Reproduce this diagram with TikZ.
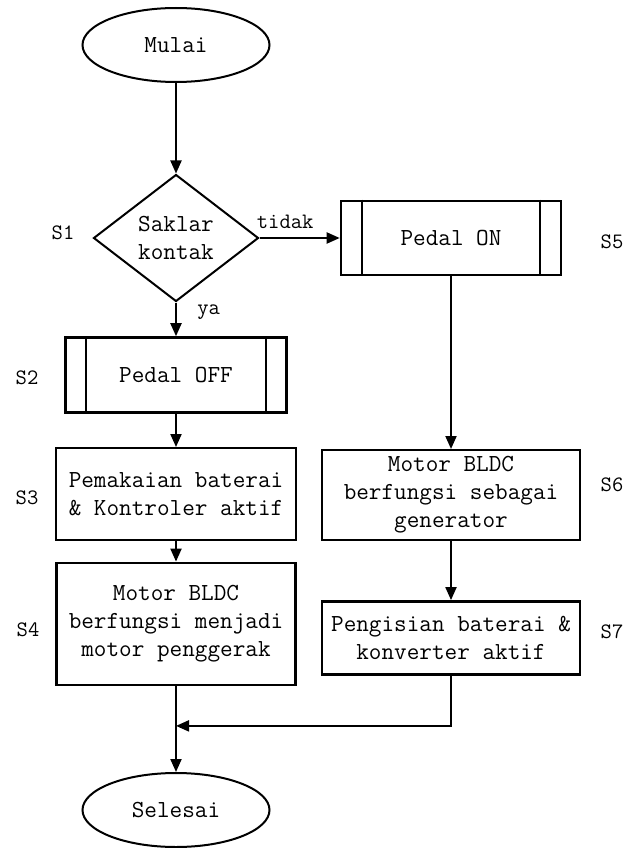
\documentclass[tikz,border=0pt]{standalone}
\usepackage{tikz}
\usetikzlibrary{arrows.meta, positioning, shapes.geometric}

\begin{document}
\begin{tikzpicture}[>={Triangle[length=13pt,width=11pt]},line width=2pt,node distance=2cm,on grid,font=\ttfamily\fontsize{24.5}{28}\selectfont]
	\useasboundingbox (0,0) rectangle (629pt,-848pt);
	\tikzset{terminal/.style={draw,ellipse,minimum width=187pt,minimum height=74pt,inner sep=0pt}}
	\tikzset{decision/.style={draw,diamond,aspect=1.3,minimum width=165pt,minimum height=127pt,inner sep=0pt,align=center}}
	\tikzset{process/.style={draw,rectangle,line width=2.6pt,minimum height=74pt,align=center}}
	\tikzset{kotak/.style={draw,rectangle,align=center}}
	\tikzset{tebal/.style={line width=2.8pt}}
	\tikzset{langkah/.style={font=\ttfamily\fontsize{22}{26}\selectfont}}

	\node[terminal] (mulai) at (176pt,-45pt) {Mulai};
	\node[decision] (saklar) [below=193pt of mulai] {Saklar\\kontak};
	\node[process,minimum width=220pt] (pedalon) [right=275pt of saklar] {Pedal ON};
	\node[process,minimum width=221pt,minimum height=75pt] (pedaloff) [below=137pt of saklar] {Pedal OFF};
	\node[kotak,minimum width=240pt,minimum height=92pt] (pakai) [below=119pt of pedaloff] {Pemakaian baterai\\\& Kontroler aktif};
	\node[kotak,tebal,minimum width=239pt,minimum height=122pt] (penggerak) [below=130pt of pakai] {Motor BLDC\\berfungsi menjadi\\motor penggerak};
	\node[kotak,minimum width=258pt,minimum height=90pt] (generator) [below=257pt of pedalon] {Motor BLDC\\berfungsi sebagai\\generator};
	\node[kotak,tebal,minimum width=258pt,minimum height=73pt] (pengisian) [below=143pt of generator] {Pengisian baterai \&\\konverter aktif};
	\node[terminal] (selesai) [below=186pt of penggerak] {Selesai};

	% garis tepi proses
	\foreach \p in {pedalon,pedaloff} {
		\draw ([xshift=22pt]\p.north west) -- ([xshift=22pt]\p.south west);
		\draw ([xshift=-22pt]\p.north east) -- ([xshift=-22pt]\p.south east);
	}

	% label langkah
	\node[langkah] (s1) [left=113pt of saklar, yshift=5pt] {S1};
	\node[langkah] (s2) [left=149pt of pedaloff, yshift=-3pt] {S2};
	\node[langkah] (s3) [left=149pt of pakai, yshift=-4pt] {S3};
	\node[langkah] (s4) [left=148pt of penggerak, yshift=-6pt] {S4};
	\node[langkah] (s5) [right=161pt of pedalon, yshift=-4pt] {S5};
	\node[langkah] (s6) [right=161pt of generator, yshift=10pt] {S6};
	\node[langkah] (s7) [right=161pt of pengisian, yshift=6pt] {S7};

	\tikzset{alur/.style={->}}
	\path (mulai) edge [alur] (saklar);
	\path (saklar) edge [alur] node[langkah,above,pos=0.32,yshift=5pt] {tidak} (pedalon);
	\path (saklar) edge [alur] node[langkah,right,pos=0.28,xshift=17pt] {ya} (pedaloff);
	\path (pedaloff) edge [alur] (pakai);
	\path (pakai) edge [alur] (penggerak);
	\path (pedalon) edge [alur] (generator);
	\path (generator) edge [alur] (pengisian);
	\path (penggerak) edge [alur] (selesai);
	\coordinate[below=50pt of pengisian.south] (belok);
	\coordinate (gabung) at (penggerak.south |- belok);
	\draw[alur] (pengisian) -- (belok) -- (gabung);
\end{tikzpicture}
\end{document}
